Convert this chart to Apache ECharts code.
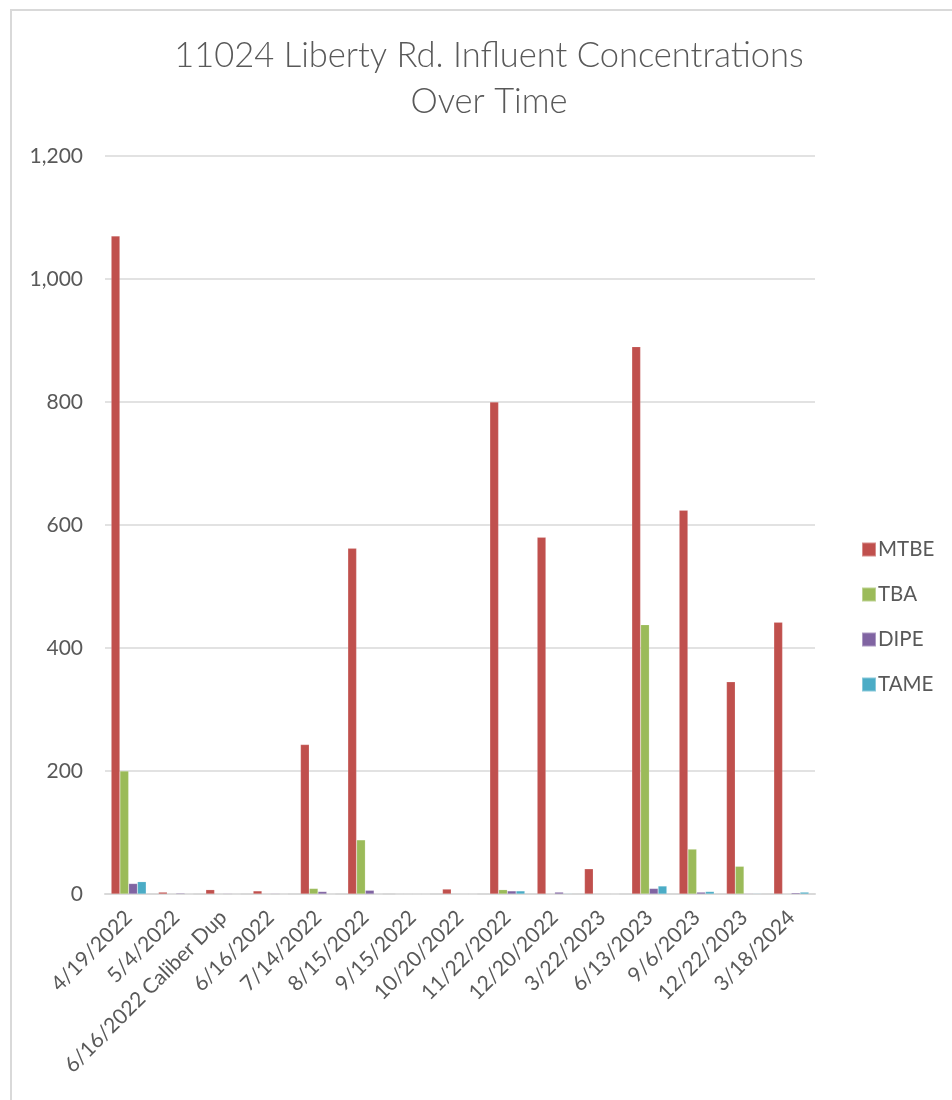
<!DOCTYPE html>
<html><head><meta charset="utf-8">
<script src="https://cdn.jsdelivr.net/npm/echarts@6/dist/echarts.min.js"></script>
<style>html,body{margin:0;padding:0;background:#fff}#c{width:952px;height:1100px}</style>
</head><body><div id="c"></div>
<script>
var categories = ['4/19/2022','5/4/2022','6/16/2022 Caliber Dup','6/16/2022','7/14/2022','8/15/2022','9/15/2022','10/20/2022','11/22/2022','12/20/2022','3/22/2023','6/13/2023','9/6/2023','12/22/2023','3/18/2024'];
var MTBE = [1070, 3, 7, 5, 243, 562, 0, 8, 800, 580, 41, 890, 624, 345, 442];
var TBA  = [200, 0, 0, 0, 9, 88, 0, 0, 7, 0, 0, 438, 73, 45, 0];
var DIPE = [17, 1.5, 1, 1, 4, 6, 0, 0, 5, 3, 0, 9, 3, 1, 2];
var TAME = [20, 0, 0, 0, 0, 0, 0, 0, 5, 1, 0, 13, 4, 1, 3];
var yTicks = [0, 200, 400, 600, 800, 1000, 1200];

var FONT = 'Lato';
var TXT = '#595959';
function s(name, data, color){
  return {name:name, type:'bar', data:data, barGap:'0%', barCategoryGap:'26%',
    itemStyle:{color:color, borderColor:'rgba(255,255,255,0.35)', borderWidth:0.5}};
}
var chart = echarts.init(document.getElementById('c'), null, {renderer:'canvas'});
chart.setOption({
  animation:false,
  backgroundColor:'#fff',
  textStyle:{fontFamily:FONT},
  title:{text:'11024 Liberty Rd. Influent Concentrations\nOver Time', left:484, top:28, textAlign:'center',
    textStyle:{fontFamily:FONT, fontWeight:300, fontSize:34.5, color:TXT, lineHeight:46}},
  legend:{orient:'vertical', left:856, top:534, itemGap:24, itemWidth:14, itemHeight:14, icon:'rect',
    textStyle:{fontFamily:FONT, fontSize:20.5, color:TXT, padding:[0,0,0,-3]}},
  grid:{left:105, right:137, top:156, bottom:206},
  xAxis:{type:'category', data:categories,
    axisLine:{lineStyle:{color:'#d9d9d9', width:2}}, axisTick:{show:false},
    axisLabel:{interval:0, rotate:45, fontFamily:FONT, fontSize:21, color:TXT, margin:20}},
  yAxis:{type:'value', min:yTicks[0], max:yTicks[yTicks.length-1], interval:200,
    axisLine:{show:false}, axisTick:{show:false},
    splitLine:{lineStyle:{color:'#d9d9d9', width:1.5}},
    axisLabel:{fontFamily:FONT, fontSize:21, color:TXT, margin:22,
      formatter:function(v){return v.toLocaleString('en-US');}}},
  graphic:[
    {type:'line', shape:{x1:10, y1:10, x2:952, y2:10}, style:{stroke:'#d9d9d9', lineWidth:2}},
    {type:'line', shape:{x1:11, y1:10, x2:11, y2:1100}, style:{stroke:'#d9d9d9', lineWidth:2}}
  ],
  series:[s('MTBE',MTBE,'#c0504d'), s('TBA',TBA,'#9bbb59'), s('DIPE',DIPE,'#8064a2'), s('TAME',TAME,'#4bacc6')]
});
</script></body></html>
